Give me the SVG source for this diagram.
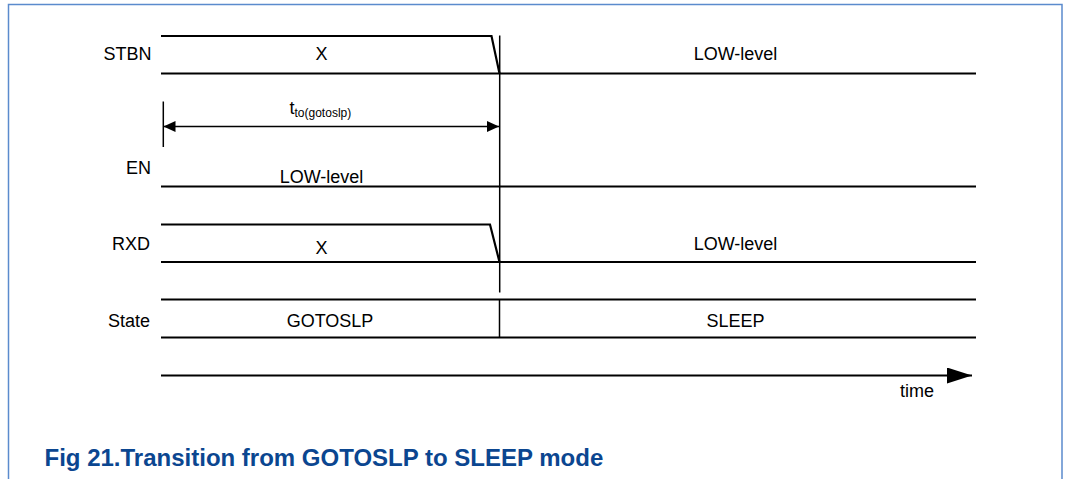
<svg xmlns="http://www.w3.org/2000/svg" width="1066" height="479" viewBox="0 0 1066 479">
  <style>
    .sig { stroke: #000; stroke-width: 2.2; fill: none; }
    .thin { stroke: #000; stroke-width: 1.5; fill: none; }
    .lbl { font-family: "Liberation Sans", Arial, sans-serif; font-size: 18px; fill: #000; }
    .end { text-anchor: end; }
    .mid { text-anchor: middle; }
    .cap { font-family: "Liberation Sans", Arial, sans-serif; font-size: 24px; font-weight: bold; fill: #0b4690; }
  </style>
  <defs>
    <marker id="dimhead" viewBox="0 0 12 11" refX="12" refY="5.5" markerWidth="12" markerHeight="11" markerUnits="userSpaceOnUse" orient="auto-start-reverse">
      <path d="M0,0 L12,5.5 L0,11 Z" fill="#000"/>
    </marker>
    <marker id="timehead" viewBox="0 0 25 16" refX="25" refY="8" markerWidth="25" markerHeight="16" markerUnits="userSpaceOnUse" orient="auto">
      <path d="M0,0 L25,8 L0,16 Z" fill="#000"/>
    </marker>
  </defs>

  <rect width="1066" height="479" fill="#fff"/>
  <!-- frame -->
  <path d="M8.5,479 V4.5 H1062 V479" fill="none" stroke="#5b8bcd" stroke-width="1.5"/>

  <!-- STBN signal -->
  <g id="stbn">
    <text class="lbl end" x="151.5" y="60">STBN</text>
    <path class="sig" d="M161,36 H491.5 L499.5,73.5"/>
    <path class="sig" d="M161,73.5 H976"/>
    <text class="lbl mid" x="321.5" y="59.5">X</text>
    <text class="lbl mid" x="735.5" y="60">LOW-level</text>
  </g>

  <!-- EN signal -->
  <g id="en">
    <text class="lbl end" x="151" y="174">EN</text>
    <path class="sig" d="M161,186.5 H976"/>
    <text class="lbl mid" x="321.5" y="182.5">LOW-level</text>
  </g>

  <!-- RXD signal -->
  <g id="rxd">
    <text class="lbl end" x="150" y="250">RXD</text>
    <path class="sig" d="M161,224.5 H490 L499.5,262"/>
    <path class="sig" d="M161,262 H976"/>
    <text class="lbl mid" x="321.5" y="254">X</text>
    <text class="lbl mid" x="735.5" y="250">LOW-level</text>
  </g>

  <!-- State row -->
  <g id="state">
    <text class="lbl end" x="150" y="326.5">State</text>
    <path class="sig" d="M161,299.5 H976 M161,337.5 H976"/>
    <path class="thin" d="M499.5,299.5 V337.5"/>
    <text class="lbl mid" x="330" y="326.5">GOTOSLP</text>
    <text class="lbl mid" x="735.5" y="326.5">SLEEP</text>
  </g>

  <!-- time axis -->
  <g id="time-axis">
    <path class="sig" d="M161,375.5 H972" marker-end="url(#timehead)"/>
    <text class="lbl" x="900" y="396.5">time</text>
  </g>

  <!-- connectors: transition marker and timing dimension -->
  <g id="connectors">
    <path class="thin" d="M499.7,35.5 V292.5"/>
    <path class="thin" d="M163.3,101.5 V147"/>
    <path stroke="#000" stroke-width="1.3" fill="none" d="M163.5,126.5 H499" marker-start="url(#dimhead)" marker-end="url(#dimhead)"/>
    <text class="lbl" x="289.5" y="113.5">t<tspan font-size="12" dy="3.5">to(gotoslp)</tspan></text>
  </g>

  <text class="cap" x="44.5" y="466">Fig 21.Transition from GOTOSLP to SLEEP mode</text>
</svg>
